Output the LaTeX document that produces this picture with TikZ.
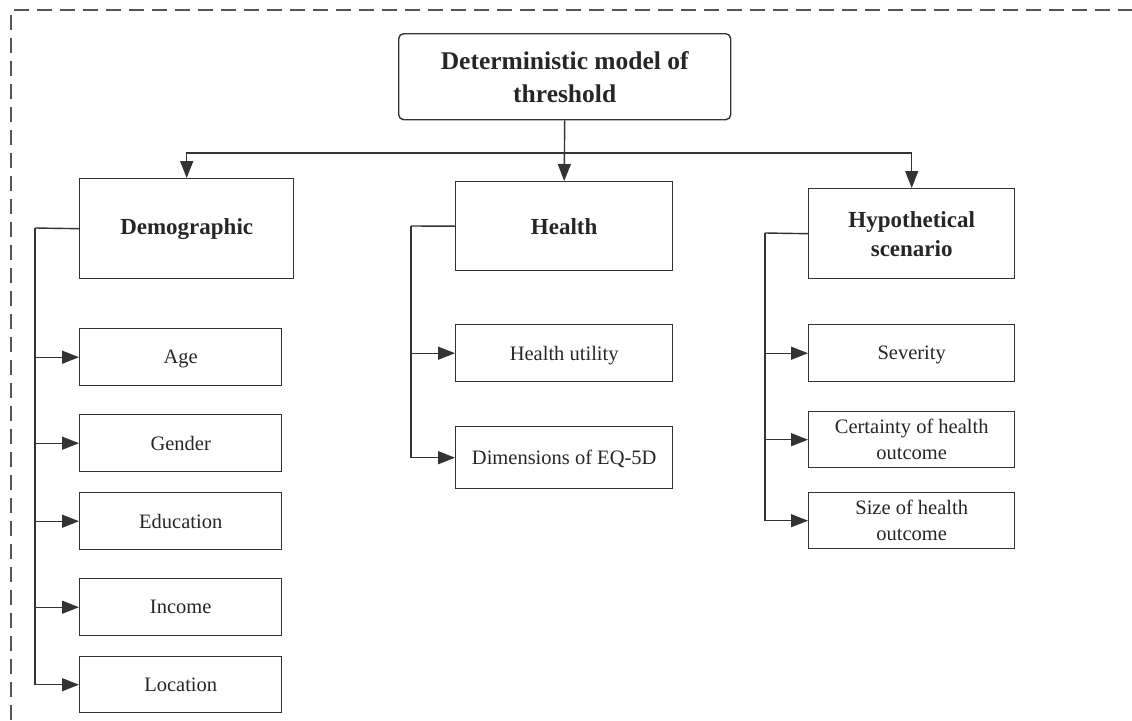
\documentclass[tikz,border=0pt]{standalone}
\usepackage{fontspec}
\setmainfont{Liberation Serif}
\usetikzlibrary{arrows.meta}
\definecolor{lc}{HTML}{333333}
\definecolor{tc}{HTML}{262626}
\definecolor{bc}{HTML}{555555}
\begin{document}
\begin{tikzpicture}[x=1pt,y=-1pt,
  box/.style={draw=lc, line width=1.4pt, anchor=north west, inner sep=0pt, align=center, text=tc, font=\fontsize{20.5}{26}\selectfont},
  leaf/.style={box, text depth=0pt},
  cat/.style={box, font=\bfseries\fontsize{23}{29}\selectfont},
  arr/.style={draw=lc, line width=1.4pt, -{Triangle[length=17pt,width=13pt]}},
  ln/.style={draw=lc, line width=1.4pt}]
\useasboundingbox (0,0) rectangle (1132,720);
\draw[bc, line width=1.5pt, dash pattern=on 15pt off 8pt] (11,720) -- (11,10) -- (1132,10);

% title
\node[box, rounded corners=5pt, minimum width=332pt, minimum height=86pt, font=\bfseries\fontsize{25.5}{33}\selectfont] (title) at (398,33) {Deterministic model of\\threshold};

% categories
\node[cat, minimum width=214pt, minimum height=100pt] (demo) at (79,178) {Demographic};
\node[cat, minimum width=217pt, minimum height=89pt] (health) at (455,181) {Health};
\node[cat, minimum width=206pt, minimum height=90pt] (hyp) at (808,188) {Hypothetical\\scenario};

% demographic leaves
\node[leaf, minimum width=202pt, minimum height=57pt] (age) at (79,328) {Age};
\node[leaf, minimum width=202pt, minimum height=57pt] (gender) at (79,414) {Gender};
\node[leaf, minimum width=202pt, minimum height=57pt] (edu) at (79,492) {Education};
\node[leaf, minimum width=202pt, minimum height=57pt] (inc) at (79,578) {Income};
\node[leaf, minimum width=202pt, minimum height=56pt] (loc) at (79,656) {Location};

% health leaves
\node[leaf, minimum width=217pt, minimum height=57pt] (util) at (455,324) {Health utility};
\node[leaf, minimum width=217pt, minimum height=62pt] (eq) at (455,426) {Dimensions of EQ-5D};

% hypothetical leaves
\node[leaf, minimum width=206pt, minimum height=57pt] (sev) at (808,324) {Severity};
\node[box, minimum width=206pt, minimum height=56pt] (cert) at (808,411) {Certainty of health\\outcome};
\node[box, minimum width=206pt, minimum height=56pt] (size) at (808,492) {Size of health\\outcome};

% top connectors
\coordinate (bus) at (564,153);
\draw[arr] (title.south) -- (health.north);
\draw[arr] (bus) -| (demo.north);
\draw[arr] (bus) -| (hyp.north);

% demographic bus
\coordinate (db) at (35,228);
\draw[ln] (demo.west) -- (db);
\foreach \n in {age,gender,edu,inc,loc} \draw[arr] (db) |- (\n.west);

% health bus
\coordinate (hb) at (411,226);
\draw[ln] (health.west) -- (hb);
\foreach \n in {util,eq} \draw[arr] (hb) |- (\n.west);

% hypothetical bus
\coordinate (yb) at (765,233);
\draw[ln] (hyp.west) -- (yb);
\foreach \n in {sev,cert,size} \draw[arr] (yb) |- (\n.west);
\end{tikzpicture}
\end{document}
